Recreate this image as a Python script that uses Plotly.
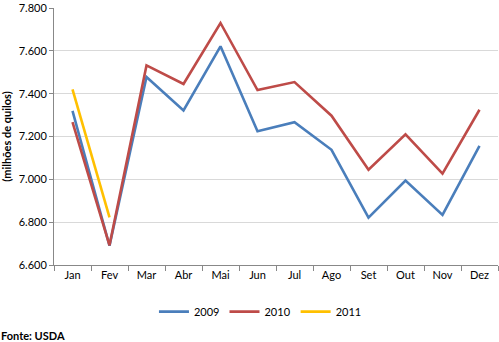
import plotly.graph_objects as go

months = ["Jan", "Fev", "Mar", "Abr", "Mai", "Jun", "Jul", "Ago", "Set", "Out", "Nov", "Dez"]
v2009 = [7320, 6690, 7478, 7322, 7621, 7225, 7267, 7138, 6821, 6994, 6834, 7156]
v2010 = [7267, 6692, 7532, 7445, 7730, 7417, 7454, 7297, 7045, 7210, 7027, 7325]
v2011 = [7420, 6822]

FONT = "Lato, Carlito, sans-serif"

fig = go.Figure()
for name, vals, color in [("2009", v2009, "#4a7ebb"),
                          ("2010", v2010, "#be4b48"),
                          ("2011", v2011, "#ffc000")]:
    fig.add_trace(go.Scatter(x=months[:len(vals)], y=vals, name=name, mode="lines",
                             line=dict(color=color, width=2.6)))

fig.update_layout(
    width=499, height=342,
    margin=dict(l=54, r=1, t=4, b=77),
    paper_bgcolor="white", plot_bgcolor="white",
    separators=",.",
    font=dict(family=FONT, size=11, color="#000000"),
    showlegend=True,
    legend=dict(orientation="h", x=0.465, xanchor="center", y=-0.125, yanchor="top",
                font=dict(size=11), itemwidth=30),
    xaxis=dict(type="category", categoryorder="array", categoryarray=months,
               tickson="boundaries", ticks="outside", ticklen=5, tickcolor="#888888",
               showline=True, linecolor="#888888", linewidth=1, showgrid=False,
               tickfont=dict(size=11), range=[-0.5, 11.5]),
    yaxis=dict(range=[6600, 7800], tickvals=[6600, 6800, 7000, 7200, 7400, 7600, 7800],
               tickformat=",.0f", ticklabeloverflow="allow",
               ticks="outside", ticklen=4, tickcolor="#888888",
               showline=True, linecolor="#888888", linewidth=1,
               showgrid=True, gridcolor="#d9d9d9", gridwidth=1,
               tickfont=dict(size=11), zeroline=False,
               title=dict(text="<b>(milhões de quilos)</b>", font=dict(size=11), standoff=10)),
)

fig.add_annotation(text="<b>Fonte: USDA</b>", xref="paper", yref="paper",
                   x=-54/444, y=-77/261, xanchor="left", yanchor="bottom",
                   showarrow=False, font=dict(size=11), borderpad=0, yshift=-2)

fig.write_html("out.html")
